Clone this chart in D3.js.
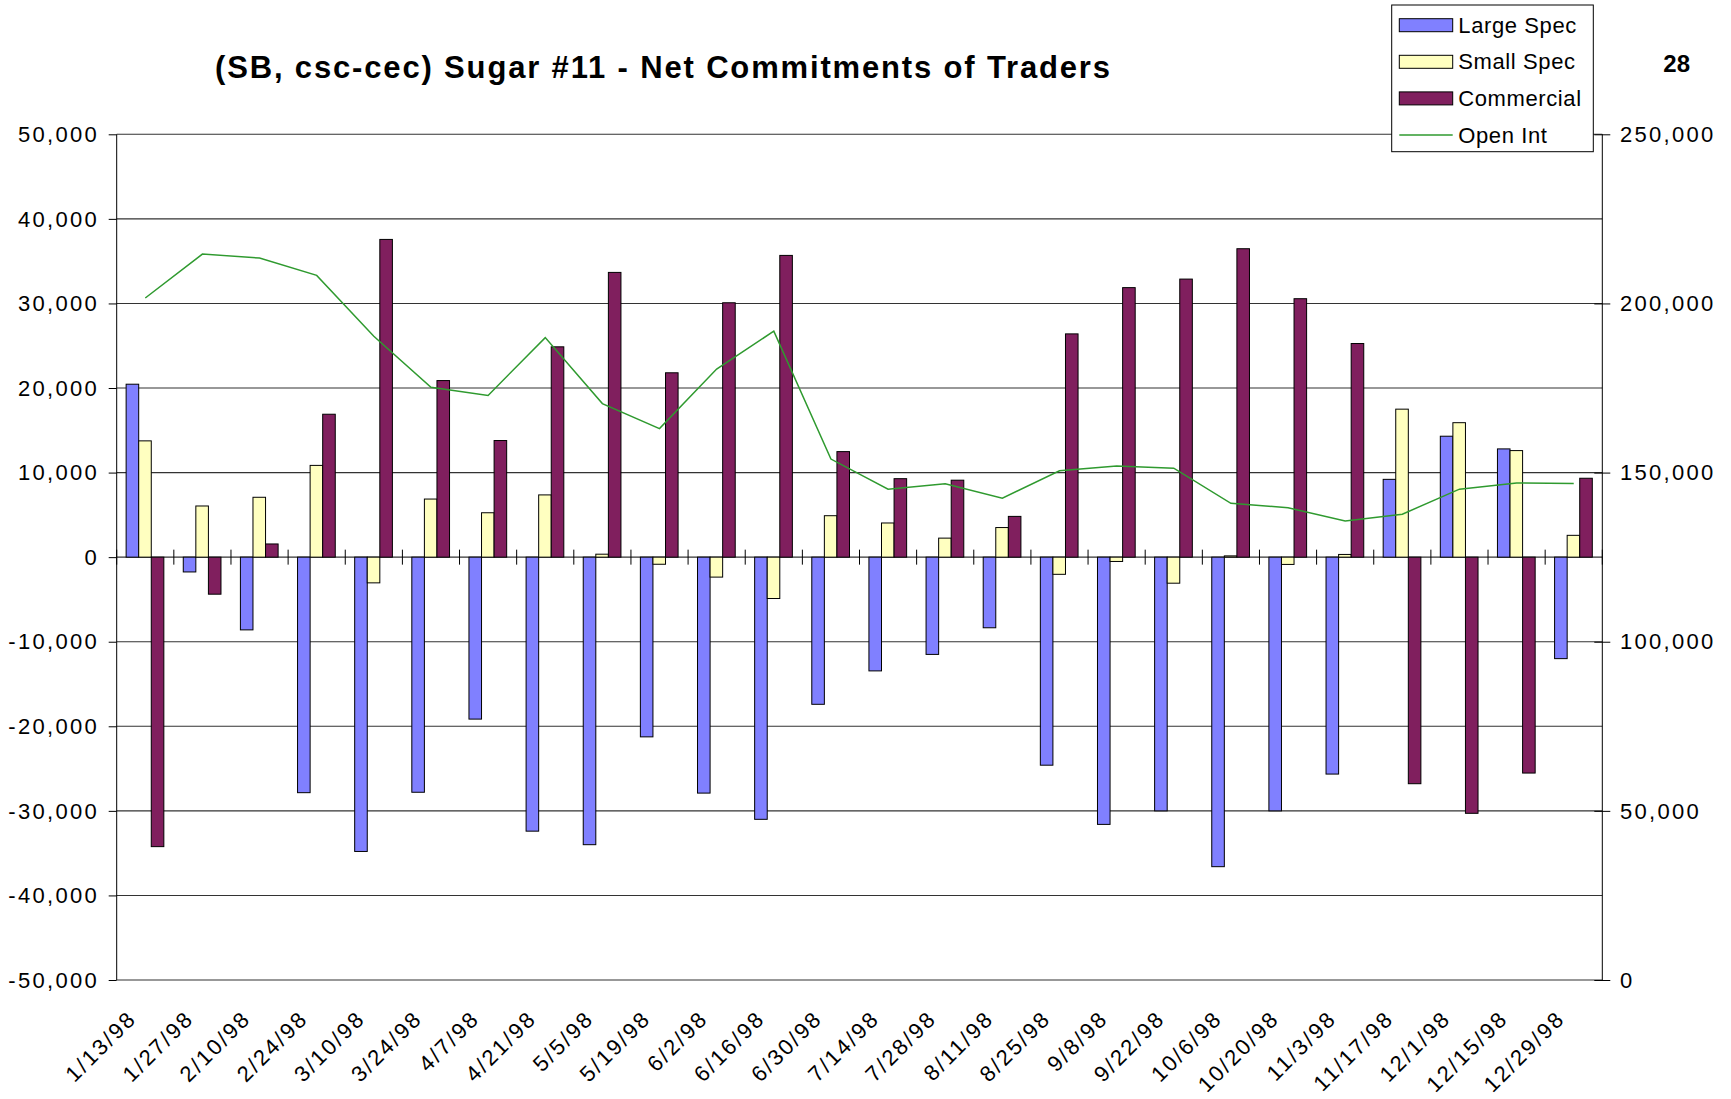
<!DOCTYPE html>
<html lang="en">
<head>
    <meta charset="UTF-8">
    <title>Sugar #11 - Net Commitments of Traders</title>
    <script type="text/javascript" src="https://cdn.jsdelivr.net/npm/d3@7"></script>
    <style type="text/css">
        body { margin: 0; background: #fff; }
        text { font-family: "Liberation Sans", Arial, sans-serif; fill: #000; }
    </style>
</head>
<body>
    <script type="text/javascript">
        //Width and height
        var w = 1731;
        var h = 1099;

        //Report dates (every two weeks)
        var dates = ["1/13/98", "1/27/98", "2/10/98", "2/24/98", "3/10/98", "3/24/98",
            "4/7/98", "4/21/98", "5/5/98", "5/19/98", "6/2/98", "6/16/98", "6/30/98",
            "7/14/98", "7/28/98", "8/11/98", "8/25/98", "9/8/98", "9/22/98", "10/6/98",
            "10/20/98", "11/3/98", "11/17/98", "12/1/98", "12/15/98", "12/29/98"];

        //Net positions
        var largeSpec = [20450, -1750, -8600, -27850, -34800, -27800, -19150, -32400, -34000,
            -21250, -27900, -31000, -17400, -13450, -11500, -8350, -24600, -31600, -30000,
            -36600, -30000, -25650, 9200, 14300, 12800, -12000];
        var smallSpec = [13750, 6050, 7080, 10850, -3040, 6870, 5250, 7360, 350,
            -840, -2360, -4890, 4900, 4040, 2250, 3500, -2030, -510, -3080,
            150, -860, 320, 17500, 15900, 12600, 2580];
        var commercial = [-34230, -4380, 1560, 16900, 37570, 20880, 13790, 24870, 33670,
            21800, 30080, 35680, 12480, 9280, 9100, 4820, 26400, 31870, 32880,
            36470, 30560, 25260, -26790, -30290, -25530, 9330];

        //Open interest (right axis)
        var openInt = [201600, 214600, 213400, 208300, 190300, 175200, 172800, 189900, 170400,
            163000, 180600, 191800, 154000, 145100, 146700, 142450, 150550, 151970, 151300,
            140900, 139600, 135700, 137700, 145100, 146900, 146800];

        //Axis ticks
        var leftTicks = [-50000, -40000, -30000, -20000, -10000, 0, 10000, 20000, 30000, 40000, 50000];
        var rightTicks = [0, 50000, 100000, 150000, 200000, 250000];

        var seriesNames = ["Large Spec", "Small Spec", "Commercial"];
        var seriesColors = ["#8080ff", "#ffffc0", "#801f5e"];
        var lineColor = "#2f9a2f";

        //plain hyphen for negatives, like the original
        var fmt = function(d) {
            return d3.format(",")(d).replace("\u2212", "-");
        };

        //Plot area
        var plotL = 116.7, plotR = 1602.3, plotT = 134.3, plotB = 980;

        var xScale = d3.scaleBand()
            .domain(dates)
            .range([plotL, plotR])
            .paddingInner(0)
            .paddingOuter(0);

        var bw = xScale.bandwidth();

        var subScale = d3.scaleBand()
            .domain(seriesNames)
            .range([bw * 0.165, bw * 0.825]);

        var yLeft = d3.scaleLinear()
            .domain([-50000, 50000])
            .range([plotB, plotT]);

        var yRight = d3.scaleLinear()
            .domain([0, 250000])
            .range([plotB, plotT]);

        //Create SVG element
        var svg = d3.select("body")
            .append("svg")
            .attr("width", w)
            .attr("height", h);

        //Gridlines
        svg.append("g")
            .selectAll("line")
            .data(leftTicks)
            .enter()
            .append("line")
            .attr("x1", plotL)
            .attr("x2", plotR)
            .attr("y1", function(d) { return yLeft(d); })
            .attr("y2", function(d) { return yLeft(d); })
            .attr("stroke", "#333")
            .attr("stroke-width", 1.1);

        //Bars
        var seriesData = [largeSpec, smallSpec, commercial];
        seriesNames.forEach(function(name, s) {
            svg.append("g")
                .selectAll("rect")
                .data(seriesData[s])
                .enter()
                .append("rect")
                .attr("x", function(d, i) {
                    return xScale(dates[i]) + subScale(name);
                })
                .attr("y", function(d) {
                    return yLeft(Math.max(0, d));
                })
                .attr("width", subScale.bandwidth())
                .attr("height", function(d) {
                    return Math.abs(yLeft(d) - yLeft(0));
                })
                .attr("fill", seriesColors[s])
                .attr("stroke", "#000")
                .attr("stroke-width", 1);
        });

        //Open interest line
        var line = d3.line()
            .x(function(d, i) { return xScale(dates[i]) + bw / 2; })
            .y(function(d) { return yRight(d); });

        svg.append("path")
            .datum(openInt)
            .attr("d", line)
            .attr("fill", "none")
            .attr("stroke", lineColor)
            .attr("stroke-width", 1.5);

        //Left axis
        var leftAxis = d3.axisLeft(yLeft)
            .tickValues(leftTicks)
            .tickSize(8)
            .tickFormat("");
        var gl = svg.append("g")
            .attr("transform", "translate(" + plotL + ",0)")
            .call(leftAxis);
        gl.select(".domain").attr("stroke", "#000").attr("d", "M0," + plotT + "V" + plotB);

        svg.append("g")
            .selectAll("text")
            .data(leftTicks)
            .enter()
            .append("text")
            .attr("x", 99)
            .attr("y", function(d) { return yLeft(d); })
            .attr("dy", "0.35em")
            .attr("text-anchor", "end")
            .style("font-size", "22px")
            .style("letter-spacing", "2.3px")
            .text(function(d) { return fmt(d); });

        //Right axis (ticks cross the line)
        var rightAxis = d3.axisRight(yRight)
            .tickValues(rightTicks)
            .tickSize(8)
            .tickFormat("");
        var gr = svg.append("g")
            .attr("transform", "translate(" + plotR + ",0)")
            .call(rightAxis);
        gr.select(".domain").attr("stroke", "#000").attr("d", "M0," + plotT + "V" + plotB);
        gr.selectAll(".tick line").attr("x1", -8).attr("stroke", "#000");

        svg.append("g")
            .selectAll("text")
            .data(rightTicks)
            .enter()
            .append("text")
            .attr("x", 1620)
            .attr("y", function(d) { return yRight(d); })
            .attr("dy", "0.35em")
            .style("font-size", "22px")
            .style("letter-spacing", "2.3px")
            .text(function(d) { return fmt(d); });

        //Category ticks crossing the zero line
        var boundaries = dates.map(function(d) { return xScale(d); }).concat([plotR]);
        svg.append("g")
            .selectAll("line")
            .data(boundaries)
            .enter()
            .append("line")
            .attr("x1", function(d) { return d; })
            .attr("x2", function(d) { return d; })
            .attr("y1", yLeft(0) - 7.5)
            .attr("y2", yLeft(0) + 7.5)
            .attr("stroke", "#000")
            .attr("stroke-width", 1);

        //Category labels
        svg.append("g")
            .selectAll("text")
            .data(dates)
            .enter()
            .append("text")
            .attr("transform", function(d) {
                var cx = xScale(d) + bw / 2 - 7.4;
                return "translate(" + cx + "," + (plotB + 40) + ") rotate(-45)";
            })
            .attr("text-anchor", "end")
            .style("font-size", "22px")
            .style("letter-spacing", "2.3px")
            .text(function(d) { return d; });

        //Title
        svg.append("text")
            .attr("x", 215)
            .attr("y", 77.5)
            .attr("textLength", 895)
            .attr("lengthAdjust", "spacing")
            .style("font-size", "31px")
            .style("font-weight", "bold")
            .text("(SB, csc-cec) Sugar #11 - Net Commitments of Traders");

        //Page number
        svg.append("text")
            .attr("x", 1676.7)
            .attr("y", 71.7)
            .attr("text-anchor", "middle")
            .style("font-size", "24px")
            .style("font-weight", "bold")
            .text("28");

        //Legend
        var legend = svg.append("g");
        legend.append("rect")
            .attr("x", 1391.7)
            .attr("y", 5)
            .attr("width", 201.6)
            .attr("height", 146.7)
            .attr("fill", "#fff")
            .attr("stroke", "#000")
            .attr("stroke-width", 1);

        var legendNames = seriesNames.concat(["Open Int"]);
        var rows = legend.selectAll("g.row")
            .data(legendNames)
            .enter()
            .append("g")
            .attr("class", "row")
            .attr("transform", function(d, i) {
                return "translate(0," + (25.2 + i * 36.6) + ")";
            });

        rows.filter(function(d, i) { return i < 3; })
            .append("rect")
            .attr("x", 1399.3)
            .attr("y", -6.5)
            .attr("width", 53.4)
            .attr("height", 13)
            .attr("fill", function(d, i) { return seriesColors[i]; })
            .attr("stroke", "#000")
            .attr("stroke-width", 1);

        rows.filter(function(d, i) { return i === 3; })
            .append("line")
            .attr("x1", 1399.3)
            .attr("x2", 1452.7)
            .attr("y1", 0)
            .attr("y2", 0)
            .attr("stroke", lineColor)
            .attr("stroke-width", 1.5);

        rows.append("text")
            .attr("x", 1458.3)
            .attr("y", 7.6)
            .style("font-size", "22px")
            .style("letter-spacing", "0.6px")
            .text(function(d) { return d; });
    </script>
</body>
</html>
